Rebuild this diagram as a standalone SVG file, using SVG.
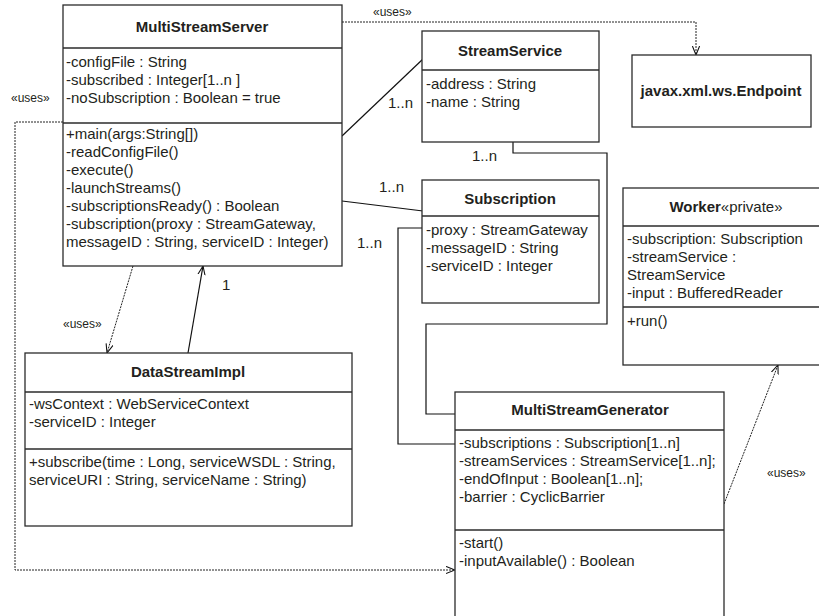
<svg xmlns="http://www.w3.org/2000/svg" width="819" height="616" viewBox="0 0 819 616">
<style>
.box{fill:#fff;stroke:#2b2b2b;stroke-width:1.3}
.div{stroke:#2b2b2b;stroke-width:1.3}
text{font-family:"Liberation Sans",Arial,sans-serif;fill:#231f20}
.t{font-size:15px;font-weight:bold;text-anchor:middle}
.a{font-size:15px}
.lbl{font-size:12px}
.m{font-size:15px}
.solid{fill:none;stroke:#111;stroke-width:1.2}
.dash{fill:none;stroke:#222;stroke-width:1;stroke-dasharray:2,1}
</style>
<defs>
<marker id="arr" viewBox="0 0 10 10" refX="10" refY="5" markerWidth="9" markerHeight="9" markerUnits="userSpaceOnUse" orient="auto">
<path d="M0,1 L10,5 L0,9" fill="none" stroke="#111" stroke-width="1.2"/>
</marker>
</defs>

<g id="connectors">
<polyline class="dash" points="342,22 696,22 696,55" marker-end="url(#arr)"/>
<polyline class="dash" points="63,122 15,122 15,570 455,570" marker-end="url(#arr)"/>
<line class="solid" x1="342" y1="136" x2="423" y2="59"/>
<line class="solid" x1="342" y1="201" x2="423" y2="211"/>
<polyline class="solid" points="422,228 398,228 398,444 455,444"/>
<polyline class="solid" points="513,125 513,153 607,153 607,324 426,324 426,414 455,414"/>
<line class="dash" x1="133" y1="266" x2="107" y2="353" marker-end="url(#arr)"/>
<line class="solid" x1="188" y1="353" x2="203" y2="266" marker-end="url(#arr)"/>
<line class="dash" x1="724" y1="504" x2="778" y2="365" marker-end="url(#arr)"/>
<text class="lbl" x="373" y="16">«uses»</text>
<text class="lbl" x="11" y="102">«uses»</text>
<text class="lbl" x="63" y="328">«uses»</text>
<text class="lbl" x="767" y="477">«uses»</text>
<text class="a" x="388" y="108">1..n</text>
<text class="a" x="379" y="192">1..n</text>
<text class="a" x="357" y="248">1..n</text>
<text class="a" x="472" y="161">1..n</text>
<text class="a" x="222" y="290">1</text>
</g>

<g id="MultiStreamServer">
<rect class="box" x="63" y="5" width="279" height="261"/>
<line class="div" x1="63" y1="48" x2="342" y2="48"/>
<line class="div" x1="63" y1="123" x2="342" y2="123"/>
<text class="t" x="202" y="32">MultiStreamServer</text>
<text class="a" x="66" y="67">-configFile : String</text>
<text class="a" x="66" y="85">-subscribed : Integer[1..n ]</text>
<text class="a" x="66" y="103">-noSubscription : Boolean = true</text>
<text class="m" x="66" y="139">+main(args:String[])</text>
<text class="m" x="66" y="157">-readConfigFile()</text>
<text class="m" x="66" y="175">-execute()</text>
<text class="m" x="66" y="193">-launchStreams()</text>
<text class="m" x="66" y="211">-subscriptionsReady() : Boolean</text>
<text class="m" x="66" y="229">-subscription(proxy : StreamGateway,</text>
<text class="m" x="66" y="247">messageID : String, serviceID : Integer)</text>
</g>

<g id="StreamService">
<rect class="box" x="422" y="31" width="177" height="111"/>
<line class="div" x1="422" y1="70" x2="599" y2="70"/>
<text class="t" x="510" y="56">StreamService</text>
<text class="a" x="426" y="89">-address : String</text>
<text class="a" x="426" y="107">-name : String</text>
</g>

<g id="Endpoint">
<rect class="box" x="632" y="55" width="179" height="72"/>
<text class="t" x="721" y="96">javax.xml.ws.Endpoint</text>
</g>

<g id="Subscription">
<rect class="box" x="422" y="180" width="177" height="123"/>
<line class="div" x1="422" y1="216" x2="599" y2="216"/>
<text class="t" x="510" y="204">Subscription</text>
<text class="a" x="426" y="235">-proxy : StreamGateway</text>
<text class="a" x="426" y="253">-messageID : String</text>
<text class="a" x="426" y="271">-serviceID : Integer</text>
</g>

<g id="Worker">
<rect class="box" x="623" y="188" width="220" height="177"/>
<line class="div" x1="623" y1="226" x2="843" y2="226"/>
<line class="div" x1="623" y1="307" x2="843" y2="307"/>
<text x="726" y="212" style="font-size:15px;text-anchor:middle"><tspan font-weight="bold">Worker</tspan>«private»</text>
<text class="a" x="627" y="244">-subscription: Subscription</text>
<text class="a" x="627" y="262">-streamService :</text>
<text class="a" x="627" y="280">StreamService</text>
<text class="a" x="627" y="298">-input : BufferedReader</text>
<text class="m" x="627" y="326">+run()</text>
</g>

<g id="DataStreamImpl">
<rect class="box" x="25" y="353" width="327" height="173"/>
<line class="div" x1="25" y1="392" x2="352" y2="392"/>
<line class="div" x1="25" y1="449" x2="352" y2="449"/>
<text class="t" x="188" y="377">DataStreamImpl</text>
<text class="a" x="29" y="409">-wsContext : WebServiceContext</text>
<text class="a" x="29" y="427">-serviceID : Integer</text>
<text class="m" x="29" y="467">+subscribe(time : Long, serviceWSDL : String,</text>
<text class="m" x="29" y="485">serviceURI : String, serviceName : String)</text>
</g>

<g id="MultiStreamGenerator">
<rect class="box" x="455" y="392" width="269" height="240"/>
<line class="div" x1="455" y1="430" x2="724" y2="430"/>
<line class="div" x1="455" y1="530" x2="724" y2="530"/>
<text class="t" x="590" y="415">MultiStreamGenerator</text>
<text class="a" x="459" y="448">-subscriptions : Subscription[1..n]</text>
<text class="a" x="459" y="466">-streamServices : StreamService[1..n];</text>
<text class="a" x="459" y="484">-endOfInput : Boolean[1..n];</text>
<text class="a" x="459" y="502">-barrier : CyclicBarrier</text>
<text class="m" x="459" y="548">-start()</text>
<text class="m" x="459" y="566">-inputAvailable() : Boolean</text>
</g>
</svg>
